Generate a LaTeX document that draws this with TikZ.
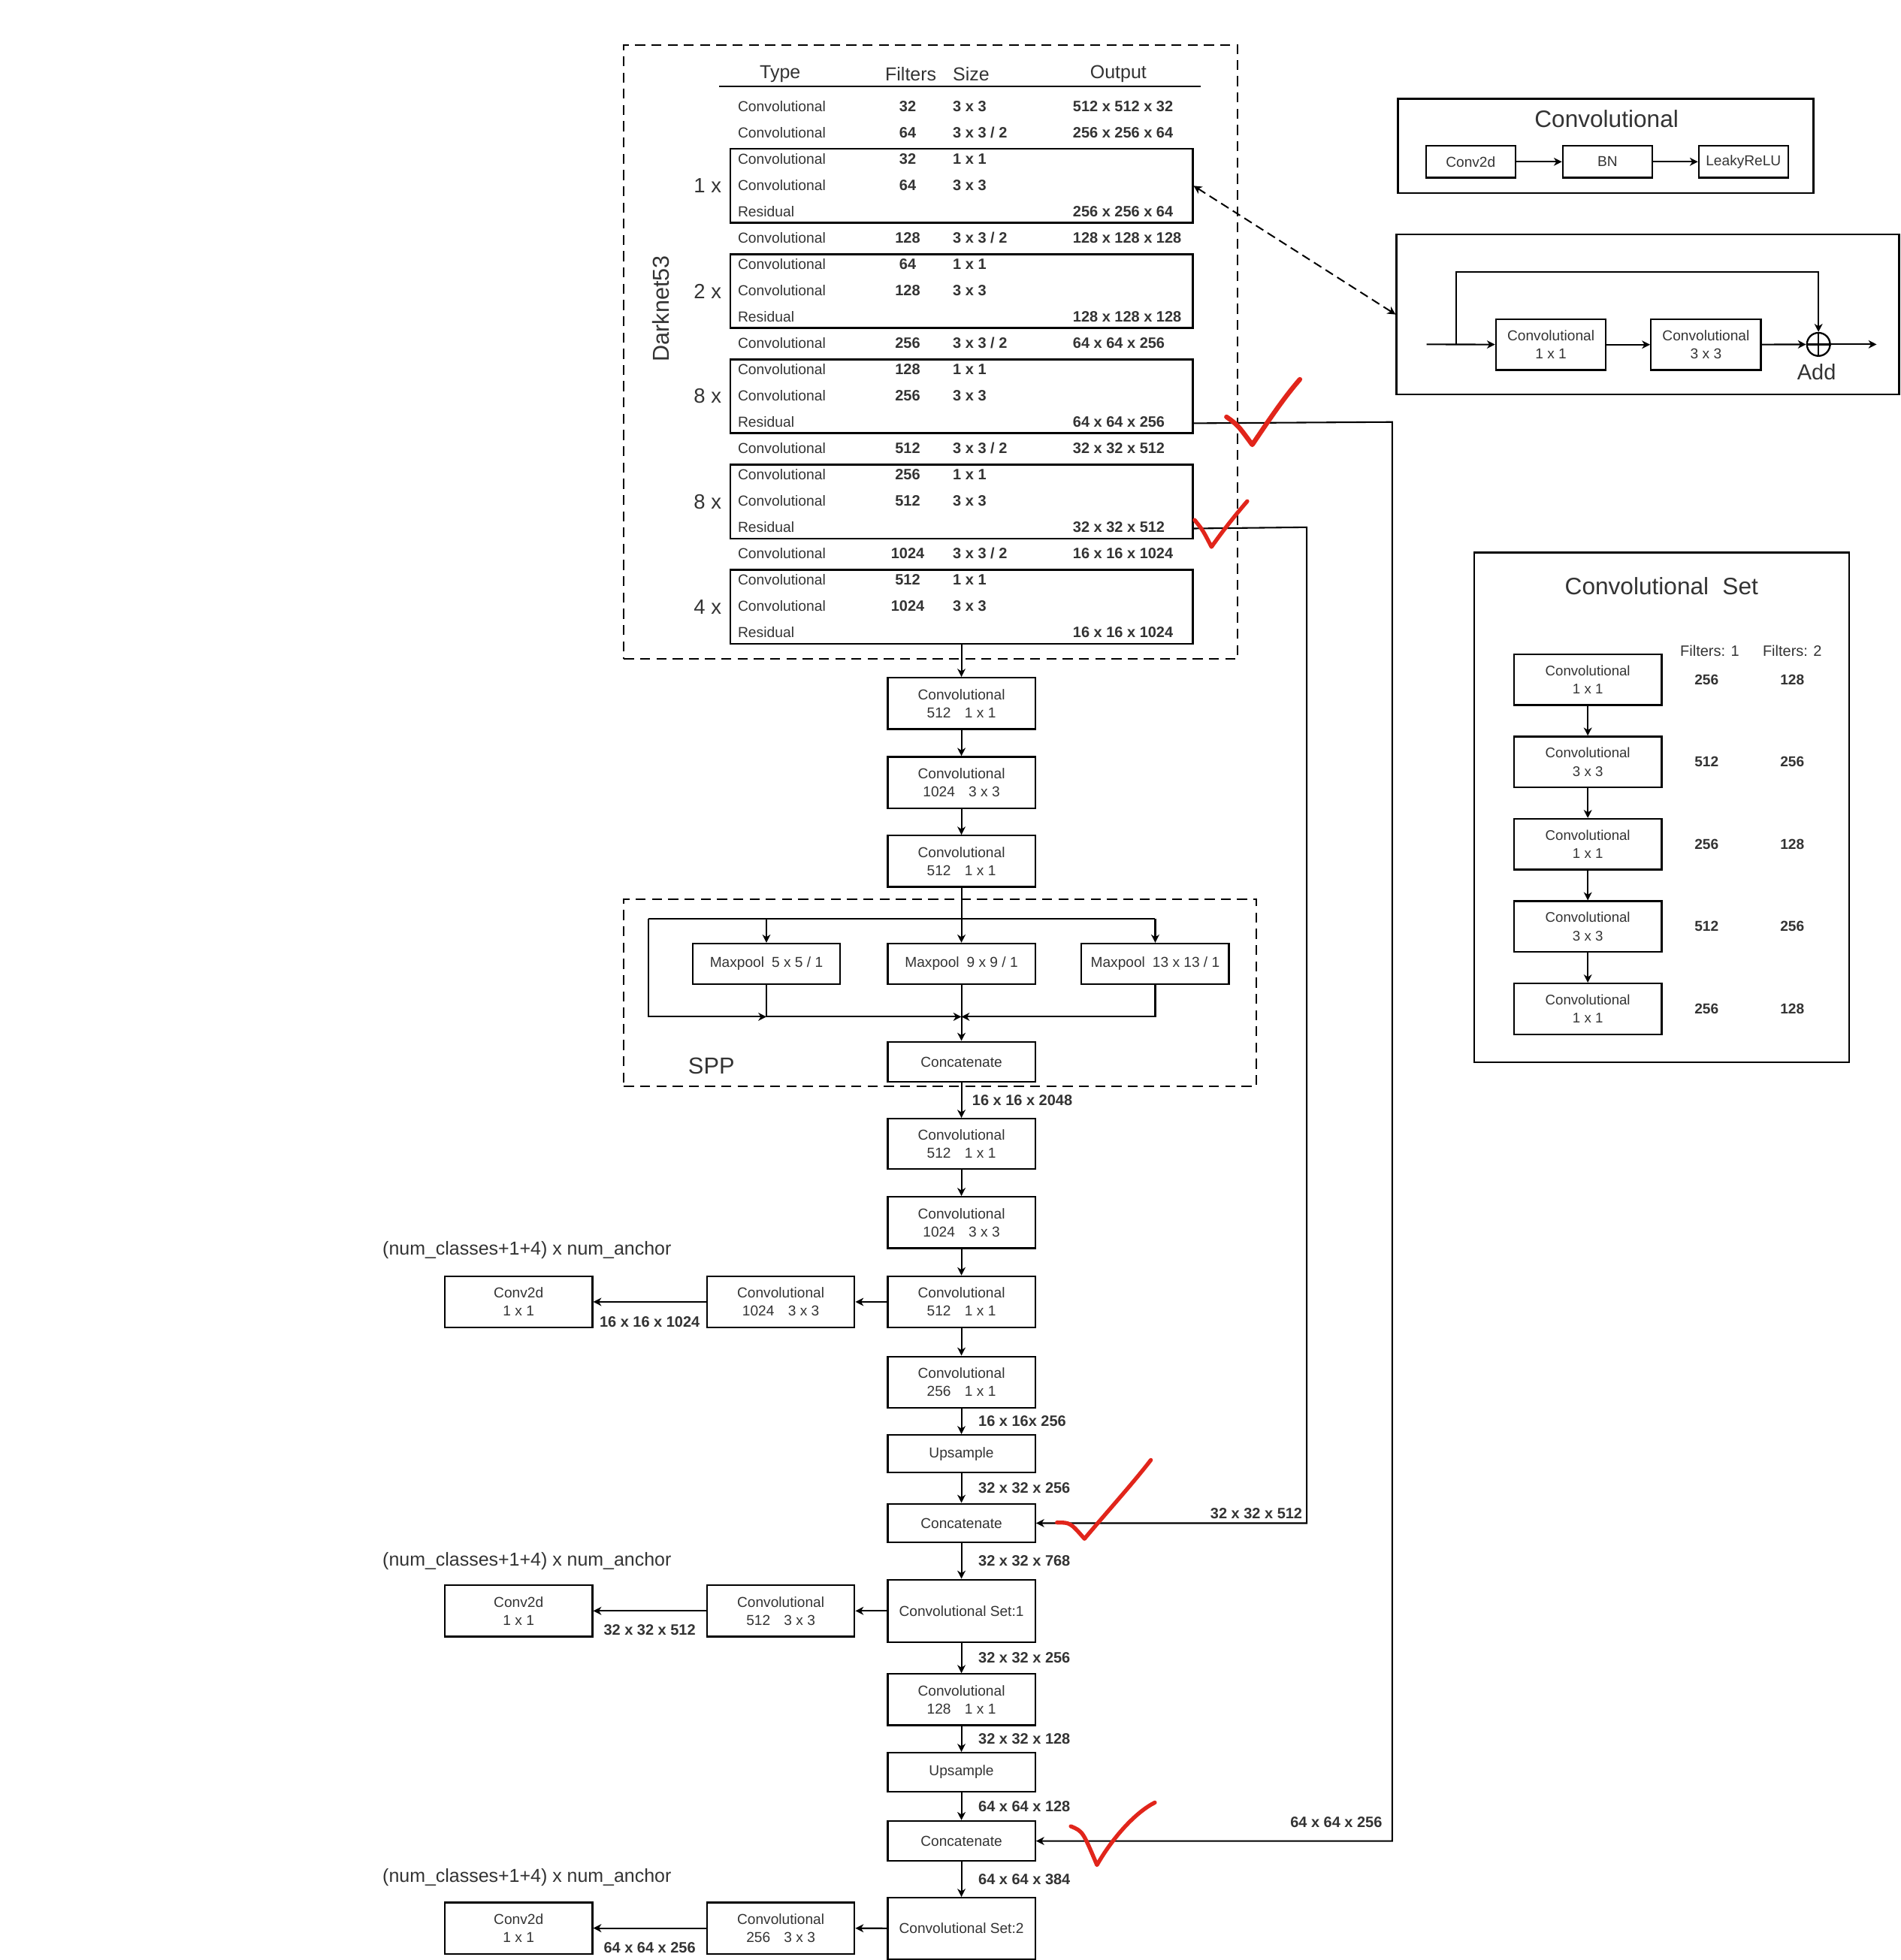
\documentclass[tikz,border=0pt]{standalone}
\usepackage{fontspec}
\setmainfont{Liberation Sans}
\usetikzlibrary{positioning, shapes.geometric, arrows.meta, calc}

\definecolor{txt}{HTML}{333333}
\definecolor{tickred}{HTML}{E1251B}
\newcommand{\fsz}[2]{\fontsize{#1}{#2}\selectfont}

\tikzset{
  box/.style={draw, line width=1.4pt, minimum width=118pt, minimum height=41pt,
    align=center, inner sep=0pt, font=\fsz{11.5}{14.5}, text=txt},
  sbox/.style={box, minimum width=71.4pt, minimum height=25.6pt},
  resbox/.style={draw, line width=1.4pt, minimum width=370pt, minimum height=59pt, inner sep=0pt},
  panel/.style={draw, line width=1.4pt, inner sep=0pt},
  dashbox/.style={draw, line width=1.4pt, dash pattern=on 8pt off 5pt, inner sep=0pt},
  head/.style={inner sep=0pt, text=txt},
  cell/.style={inner sep=0pt, text height=8.5pt, text depth=2.2pt, text=txt, font=\fsz{11.6}{13}},
  cellb/.style={cell, font=\fsz{12}{13}\bfseries},
  dimlbl/.style={font=\fsz{12}{13}\bfseries, text=txt, inner sep=2pt},
  note/.style={font=\fsz{15}{17}, text=txt, inner sep=0pt},
  arr/.style={->, line width=1.25pt},
  redtick/.style={draw=tickred, line width=3.8pt, line cap=round, line join=round},
}

\begin{document}
\begin{tikzpicture}[x=1pt, y=-1pt, >={Stealth[length=6.5pt, width=6.5pt, inset=2pt]}]
\useasboundingbox (0,0) rectangle (1520,1568);

% Darknet53 table
\node[dashbox, minimum width=491pt, minimum height=491pt] (darknet) at (744.5,281.5) {};
\node[head, font=\fsz{15}{16}] (htype) at (624,59) {Type};
\node[head, font=\fsz{15}{16}] (hfil) at (728.5,59) {Filters};
\node[head, font=\fsz{15}{16}, anchor=west] (hsize) at (762,59) {Size};
\node[head, font=\fsz{15}{16}] (hout) at (894.5,59) {Output};
\draw[line width=1.4pt] (575,69) -- (960.5,69);

\foreach \cType/\cFil/\cSize/\cOut [count=\i] in {
  Convolutional/32/3 x 3/512 x 512 x 32,
  Convolutional/64/{3 x 3 / 2}/256 x 256 x 64,
  Convolutional/32/1 x 1/{},
  Convolutional/64/3 x 3/{},
  Residual/{}/{}/256 x 256 x 64,
  Convolutional/128/{3 x 3 / 2}/128 x 128 x 128,
  Convolutional/64/1 x 1/{},
  Convolutional/128/3 x 3/{},
  Residual/{}/{}/128 x 128 x 128,
  Convolutional/256/{3 x 3 / 2}/64 x 64 x 256,
  Convolutional/128/1 x 1/{},
  Convolutional/256/3 x 3/{},
  Residual/{}/{}/64 x 64 x 256,
  Convolutional/512/{3 x 3 / 2}/32 x 32 x 512,
  Convolutional/256/1 x 1/{},
  Convolutional/512/3 x 3/{},
  Residual/{}/{}/32 x 32 x 512,
  Convolutional/1024/{3 x 3 / 2}/16 x 16 x 1024,
  Convolutional/512/1 x 1/{},
  Convolutional/1024/3 x 3/{},
  Residual/{}/{}/16 x 16 x 1024}{
  \pgfmathsetmacro{\ry}{86+(\i-1)*21.05}
  \node[cell, anchor=west] (ty\i) at (590,\ry) {\cType};
  \node[cellb] (fl\i) at (726,\ry) {\cFil};
  \node[cellb, anchor=west] (sz\i) at (762,\ry) {\cSize};
  \node[cellb, anchor=west] (out\i) at (858,\ry) {\cOut};
}
\foreach \r/\m [count=\j] in {4/1, 8/2, 12/8, 16/8, 20/4}{
  \pgfmathsetmacro{\cy}{85+(\r-1)*21.05+0.5}
  \node[resbox] (rb\j) at (769,\cy) {};
  \node[head, font=\fsz{16.5}{17}] (mul\j) at (566,\cy) {\m\ x};
}
\node[head, font=\fsz{18.4}{19}, rotate=90] (dnlbl) at (528.5,247) {Darknet53};

% Convolutional panel
\node[panel, minimum width=332.5pt, minimum height=75.3pt] (convpanel) at (1284.3,116.7) {};
\node[head, font=\fsz{19}{20}] (convtitle) at (1285,95) {Convolutional};
\node[sbox] (conv2d) at (1176.3,129.4) {Conv2d};
\node[sbox, right=36.6pt of conv2d] (bn) {BN};
\node[sbox, right=36pt of bn] (leaky) {LeakyReLU};
\draw[arr] (conv2d) -- (bn);
\draw[arr] (bn) -- (leaky);

% residual panel
\node[panel, minimum width=402pt, minimum height=128pt] (respanel) at (1318,251.6) {};
\coordinate (rin) at (1141,275.5);
\coordinate (rsplit) at (1164.5,275.5);
\node[box, minimum width=88pt, minimum height=40.6pt] (rc1) at (1240.5,275.7) {Convolutional\\1 x 1};
\node[box, minimum width=88pt, minimum height=40.6pt] (rc2) at (1364.5,275.7) {Convolutional\\3 x 3};
\node[draw, circle, line width=1.4pt, minimum size=18.5pt, inner sep=0pt] (add) at (1454.5,275.5) {};
\draw[line width=1.4pt] (add.north) -- (add.south) (add.west) -- (add.east);
\node[head, font=\fsz{17.4}{18}] (addlbl) at (1453,297.5) {Add};
\coordinate (rout) at (1501,275.5);
\coordinate (rtop) at (1454.5,217.5);
\draw[arr] (rin) -- (rc1);
\draw[arr] (rc1) -- (rc2);
\draw[arr] (rc2) -- (add);
\draw[arr] (add) -- (rout);
\draw[arr] (rsplit) |- (rtop) -- (add);
\draw[<->, line width=1.2pt, dash pattern=on 7pt off 4pt] (rb1.east) -- (respanel.west);

% Convolutional Set panel
\node[panel, minimum width=300pt, minimum height=408pt] (setpanel) at (1329,646) {};
\node[head, font=\fsz{19}{20}] (settitle) at (1329,469) {Convolutional\hspace{11pt}Set};
\node[head, font=\fsz{12}{13}] (f1h) at (1367.5,520.6) {Filters: 1};
\node[head, font=\fsz{12}{13}] (f2h) at (1433.5,520.6) {Filters: 2};
\foreach \kSize/\fa/\fb [count=\k] in {1 x 1/256/128, 3 x 3/512/256, 1 x 1/256/128, 3 x 3/512/256, 1 x 1/256/128}{
  \pgfmathsetmacro{\setY}{543.7+(\k-1)*65.85}
  \node[box, minimum height=40.6pt, font=\fsz{11.2}{14.6}] (set\k) at (1270,\setY) {Convolutional\\\kSize};
  \node[head, font=\fsz{11.5}{13}\bfseries] (fa\k) at (1365,\setY) {\fa};
  \node[head, font=\fsz{11.5}{13}\bfseries] (fb\k) at (1433.5,\setY) {\fb};
}
\foreach \k [evaluate=\k as \n using int(\k+1)] in {1,...,4}
  \draw[arr] (set\k) -- (set\n);

% neck and heads
\node[box] (c1) at (769,562.7) {Convolutional\\512\hspace{11pt}1 x 1};
\node[box] (c2) at (769,626) {Convolutional\\1024\hspace{11pt}3 x 3};
\node[box] (c3) at (769,689) {Convolutional\\512\hspace{11pt}1 x 1};
\node[dashbox, minimum width=506pt, minimum height=149.5pt] (spp) at (752,794.3) {};
\node[box, minimum height=32.3pt] (mp1) at (613,771) {Maxpool\hspace{6pt}5 x 5 / 1};
\node[box, minimum height=32.3pt] (mp2) at (769,771) {Maxpool\hspace{6pt}9 x 9 / 1};
\node[box, minimum height=32.3pt] (mp3) at (924,771) {Maxpool\hspace{6pt}13 x 13 / 1};
\node[box, minimum height=32.2pt] (cat1) at (769,849.5) {Concatenate};
\node[head, font=\fsz{18.5}{19}] (spplbl) at (569,853) {SPP};
\node[box, minimum height=40pt] (c4) at (769,915) {Convolutional\\512\hspace{11pt}1 x 1};
\node[box] (c5) at (769,978) {Convolutional\\1024\hspace{11pt}3 x 3};
\node[box] (c6) at (769,1041.5) {Convolutional\\512\hspace{11pt}1 x 1};
\node[box] (c7) at (769,1105.7) {Convolutional\\256\hspace{11pt}1 x 1};
\node[box, minimum height=30pt] (up1) at (769,1163) {Upsample};
\node[box, minimum height=31pt] (cat2) at (769,1218.5) {Concatenate};
\node[box, minimum height=50pt] (cs1) at (769,1288.7) {Convolutional Set:1};
\node[box] (c8) at (769,1359.7) {Convolutional\\128\hspace{11pt}1 x 1};
\node[box, minimum height=31pt] (up2) at (769,1417.7) {Upsample};
\node[box, minimum height=32pt] (cat3) at (769,1472.8) {Concatenate};
\node[box, minimum height=49pt] (cs2) at (769,1542.7) {Convolutional Set:2};

\node[box] (s1conv) at (624.5,1041.5) {Convolutional\\1024\hspace{11pt}3 x 3};
\node[box] (s1out) at (414.8,1041.5) {Conv2d\\1 x 1};
\node[box] (s2conv) at (624.5,1288.7) {Convolutional\\512\hspace{11pt}3 x 3};
\node[box] (s2out) at (414.8,1288.7) {Conv2d\\1 x 1};
\node[box] (s3conv) at (624.5,1542.5) {Convolutional\\256\hspace{11pt}3 x 3};
\node[box] (s3out) at (414.8,1542.5) {Conv2d\\1 x 1};
\node[note] (n1) at (421.5,1000) {(num\_classes+1+4) x num\_anchor};
\node[note] (n2) at (421.5,1249) {(num\_classes+1+4) x num\_anchor};
\node[note] (n3) at (421.5,1502) {(num\_classes+1+4) x num\_anchor};

\draw[arr] (rb5) -- (c1);
\draw[arr] (c1) -- (c2);
\draw[arr] (c2) -- (c3);
\draw[arr] (c3) -- (mp2);
\coordinate (sppl) at (518.5,735);
\coordinate (sppb) at (518.5,813.4);
\draw[line width=1.25pt] (sppl) -- (mp3 |- sppl);
\draw[arr] (mp1 |- sppl) -- (mp1);
\draw[arr] (mp3 |- sppl) -- (mp3);
\draw[arr] (sppl) -- (sppb) -- (mp1 |- sppb);
\draw[arr] (mp1) |- (mp2 |- sppb);
\draw[arr] (mp3) |- (mp2 |- sppb);
\draw[arr] (mp2) -- (cat1);
\draw[arr] (cat1) -- node[dimlbl, right=6pt] {16 x 16 x 2048} (c4);
\draw[arr] (c4) -- (c5);
\draw[arr] (c5) -- (c6);
\draw[arr] (c6) -- (c7);
\draw[arr] (c7) -- node[dimlbl, right=11pt] {16 x 16x 256} (up1);
\draw[arr] (up1) -- node[dimlbl, right=11pt] {32 x 32 x 256} (cat2);
\draw[arr] (cat2) -- node[dimlbl, right=11pt] {32 x 32 x 768} (cs1);
\draw[arr] (cs1) -- node[dimlbl, right=11pt] {32 x 32 x 256} (c8);
\draw[arr] (c8) -- node[dimlbl, right=11pt] {32 x 32 x 128} (up2);
\draw[arr] (up2) -- node[dimlbl, right=11pt] {64 x 64 x 128} (cat3);
\draw[arr] (cat3) -- node[dimlbl, right=11pt] {64 x 64 x 384} (cs2);

\draw[arr] (c6) -- (s1conv);
\draw[arr] (s1conv) -- node[dimlbl, below=9pt] {16 x 16 x 1024} (s1out);
\draw[arr] (cs1) -- (s2conv);
\draw[arr] (s2conv) -- node[dimlbl, below=8.5pt] {32 x 32 x 512} (s2out);
\draw[arr] (cs2) -- (s3conv);
\draw[arr] (s3conv) -- node[dimlbl, below=9pt] {64 x 64 x 256} (s3out);

\coordinate (r3) at (1113.6,337.6);
\coordinate (r4) at (1045.2,421.8);
\draw[arr] (rb3.east |- ty13) -- (r3) |- node[dimlbl, pos=0.5, anchor=south east, inner sep=3pt, xshift=-4.5pt, yshift=7pt] {64 x 64 x 256} (cat3);
\draw[arr] (rb4.east |- ty17) -- (r4) |- node[dimlbl, pos=0.5, anchor=south east, inner sep=3pt] {32 x 32 x 512} (cat2);

% red ticks
\draw[redtick] (981,333.5) .. controls (990,340) .. (1001.6,355.8) .. controls (1015,336) and (1027,318) .. (1039.7,303.5);
\draw[redtick, line width=3.2pt] (955.5,416) .. controls (962,424) .. (969,437.5) .. controls (980,422) and (989,411) .. (997.6,401);
\draw[redtick, line width=3.2pt] (845.4,1218) .. controls (856,1218) .. (867.4,1231) .. controls (885,1210) and (905,1188) .. (920.5,1168);
\draw[redtick, line width=3.2pt] (856.5,1461) .. controls (866,1465) .. (877.4,1492) .. controls (890,1470) and (908,1450) .. (923.7,1442);
\end{tikzpicture}
\end{document}
